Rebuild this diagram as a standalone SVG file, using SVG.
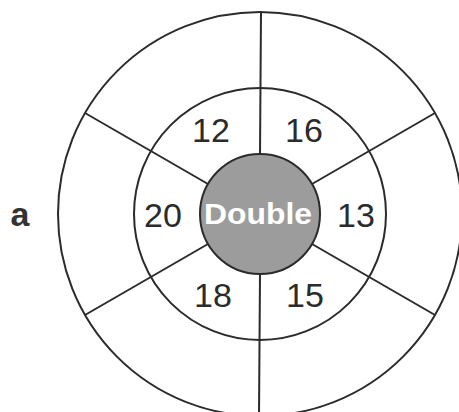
<svg xmlns="http://www.w3.org/2000/svg" width="459" height="412" viewBox="0 0 459 412">
<style>
.ln{fill:none;stroke:#2b2b2b;stroke-width:2}
.num{font-family:"Liberation Sans",Arial,sans-serif;font-size:34px;fill:#2b2b2b;text-anchor:middle}
.dbl{font-family:"Liberation Sans",Arial,sans-serif;font-size:30px;font-weight:bold;fill:#ffffff;text-anchor:middle}
.lab{font-family:"Liberation Sans",Arial,sans-serif;font-size:34px;font-weight:bold;fill:#333333;text-anchor:middle}
</style>
<rect width="459" height="412" fill="#ffffff"/>
<g id="rings">
<circle class="ln" cx="260" cy="214" r="202"/>
<circle class="ln" cx="260" cy="214" r="126"/>
</g>
<g id="connectors">
<line class="ln" x1="261" y1="12" x2="260" y2="154"/>
<line class="ln" x1="260" y1="274" x2="259" y2="416"/>
<line class="ln" x1="85" y1="113" x2="208" y2="184"/>
<line class="ln" x1="435" y1="113" x2="312" y2="184"/>
<line class="ln" x1="85" y1="315" x2="208" y2="244"/>
<line class="ln" x1="435" y1="315" x2="312" y2="244"/>
</g>
<g id="center">
<circle cx="260" cy="214" r="60" fill="#9c9c9c" stroke="#2b2b2b" stroke-width="2"/>
<text class="dbl" x="258" y="224" textLength="108" lengthAdjust="spacingAndGlyphs">Double</text>
</g>
<g id="n12"><text class="num" x="211" y="142">12</text></g>
<g id="n16"><text class="num" x="304" y="142">16</text></g>
<g id="n20"><text class="num" x="163" y="227">20</text></g>
<g id="n13"><text class="num" x="356" y="227">13</text></g>
<g id="n18"><text class="num" x="213" y="307">18</text></g>
<g id="n15"><text class="num" x="305" y="307">15</text></g>
<g id="label"><text class="lab" x="20" y="226">a</text></g>
</svg>
